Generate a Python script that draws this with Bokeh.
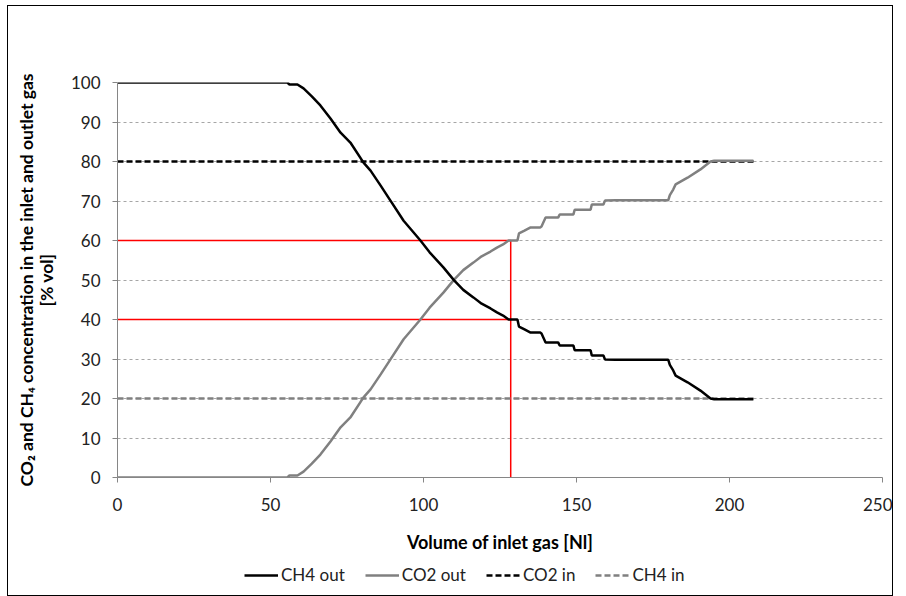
from bokeh.plotting import figure
from bokeh.layouts import column
from bokeh.models import Range1d, FixedTicker, Legend, LegendItem
from bokeh.embed import file_html
from bokeh.resources import INLINE

# ---- data ----
ch4_out_x = [0, 55.5, 56.2, 58.8, 60.8, 63.5, 66.3, 69.6, 72.9, 76.1, 80.4, 82.7, 86.0, 89.2,
             93.5, 99.0, 102.0, 106.5, 110.0, 113.0, 116.3, 119.0, 121.9, 124.0, 126.0, 127.8,
             130.7, 131.2, 133.0, 135.0, 138.2, 138.6, 139.9, 144.0, 144.5, 149.0, 149.4, 154.6,
             155.0, 158.8, 159.3, 162.7, 180.0, 180.5, 181.6, 182.4, 186.3, 190.5, 193.8, 195.0, 207.8]
ch4_out_y = [100, 100, 99.5, 99.5, 98.5, 96.5, 94.2, 90.9, 87.3, 84.8, 79.7, 77.7, 73.9, 70.1,
             65.0, 60.0, 57.0, 53.2, 49.9, 47.5, 45.6, 44.0, 42.8, 41.8, 41.0, 40.0,
             40.0, 38.2, 37.5, 36.7, 36.7, 36.4, 34.2, 34.2, 33.4, 33.4, 32.2, 32.2,
             30.9, 30.9, 29.9, 29.8, 29.8, 28.5, 27.1, 25.8, 24.1, 22.0, 20.0, 19.8, 19.8]

co2_out_x = [0, 55.5, 56.2, 58.8, 60.8, 63.5, 66.3, 69.6, 72.9, 76.1, 80.4, 82.7, 86.0, 89.2,
             93.5, 99.0, 102.0, 106.5, 110.0, 113.0, 116.3, 119.0, 121.9, 124.0, 126.0, 127.8,
             130.7, 131.2, 133.0, 135.0, 138.2, 138.6, 139.9, 144.0, 144.5, 149.0, 149.4, 154.6,
             155.0, 158.8, 159.3, 162.7, 180.0, 180.5, 181.6, 182.4, 186.3, 190.5, 193.8, 195.0, 207.8]
co2_out_y = [0, 0, 0.5, 0.5, 1.5, 3.5, 5.8, 9.1, 12.7, 15.2, 20.3, 22.3, 26.1, 29.9,
             35.0, 40.0, 43.0, 46.8, 50.1, 52.5, 54.4, 56.0, 57.2, 58.2, 59.0, 60.0,
             60.0, 61.8, 62.5, 63.3, 63.3, 63.6, 65.8, 65.8, 66.6, 66.6, 67.8, 67.8,
             69.1, 69.1, 70.1, 70.2, 70.2, 71.5, 72.9, 74.2, 75.9, 78.0, 80.0, 80.2, 80.2]

inlet_x = [0, 208]
co2_in_y = [80, 80]
ch4_in_y = [20, 20]

guide_x = 128.5
guide_levels = [60, 40]

x_ticks = [0, 50, 100, 150, 200, 250]
y_ticks = [0, 10, 20, 30, 40, 50, 60, 70, 80, 90, 100]

series_names = ["CH4 out", "CO2 out", "CO2 in", "CH4 in"]
series_colors = ["#000000", "#808080", "#000000", "#808080"]
series_dash = ["solid", "solid", "6 3", "6 3"]
series_x = [ch4_out_x, co2_out_x, inlet_x, inlet_x]
series_y = [ch4_out_y, co2_out_y, co2_in_y, ch4_in_y]

FONT = "Lato"

p = figure(width=884, height=551, output_backend="svg", toolbar_location=None,
           x_range=Range1d(0, 250), y_range=Range1d(0, 100),
           min_border_left=109, min_border_right=10, min_border_top=76, min_border_bottom=80)
p.outline_line_color = None
p.background_fill_color = "white"
p.border_fill_color = "white"

# grid
p.xgrid.grid_line_color = None
p.ygrid.grid_line_color = "#a6a6a6"
p.ygrid.grid_line_dash = "3 3"
p.ygrid.grid_line_width = 1

for ax in (p.xaxis[0], p.yaxis[0]):
    ax.axis_line_color = "#868686"
    ax.major_tick_line_color = "#868686"
    ax.major_tick_out = 5
    ax.major_tick_in = 0
    ax.minor_tick_line_color = None
    ax.major_label_text_font = FONT
    ax.major_label_text_font_size = "17px"
    ax.major_label_text_color = "#222222"
    ax.axis_label_text_font = FONT
    ax.axis_label_text_font_style = "bold"
    ax.axis_label_text_color = "#000000"

p.xaxis.ticker = FixedTicker(ticks=x_ticks)
p.yaxis.ticker = FixedTicker(ticks=y_ticks)
p.xaxis.major_label_standoff = 15
p.yaxis.major_label_standoff = 12
p.xaxis.axis_label = "Volume of inlet gas [Nl]"
p.xaxis.axis_label_text_font_size = "18px"
p.xaxis.axis_label_standoff = 17
p.yaxis.axis_label = "CO\u2082 and CH\u2084 concentration in the inlet and outlet gas\n[% vol]"
p.yaxis.axis_label_text_font_size = "17.5px"
p.yaxis.axis_label_text_line_height = 0.95
p.yaxis.axis_label_standoff = 11

# red guide lines
for lvl in guide_levels:
    p.line([0, guide_x], [lvl, lvl], line_color="#ff0000", line_width=1.5)
p.line([guide_x, guide_x], [0, max(guide_levels)], line_color="#ff0000", line_width=1.5)

# series, drawn back to front
for i in [2, 3, 1, 0]:
    p.line(series_x[i], series_y[i], line_color=series_colors[i], line_width=2.5,
           line_dash=series_dash[i])

# ---- legend strip below the chart (same series, ranges out of view) ----
q = figure(width=884, height=38, output_backend="svg", toolbar_location=None,
           x_axis_location=None, y_axis_location=None,
           x_range=Range1d(0, 250), y_range=Range1d(-20, -10),
           min_border_left=0, min_border_right=0, min_border_top=0, min_border_bottom=0)
q.grid.visible = False
q.outline_line_color = None
q.background_fill_color = "white"
q.border_fill_color = "white"

items = []
for i, name in enumerate(series_names):
    r = q.line(series_x[i], series_y[i], line_color=series_colors[i], line_width=2.5,
               line_dash=series_dash[i])
    items.append(LegendItem(label=name, renderers=[r]))

legend = Legend(items=items, orientation="horizontal", location=(127, 10))
legend.border_line_color = None
legend.background_fill_alpha = 0
legend.padding = 0
legend.margin = 0
legend.spacing = 20
legend.glyph_width = 34
legend.label_standoff = 3
legend.label_text_font = FONT
legend.label_text_font_size = "17px"
legend.label_text_color = "#222222"
q.add_layout(legend, "center")

layout = column(p, q, spacing=0)
layout.margin = (5, 0, 0, 7)
layout.styles = {"border": "1px solid #000000", "background-color": "white"}

open("out.html", "w").write(file_html(layout, INLINE))
